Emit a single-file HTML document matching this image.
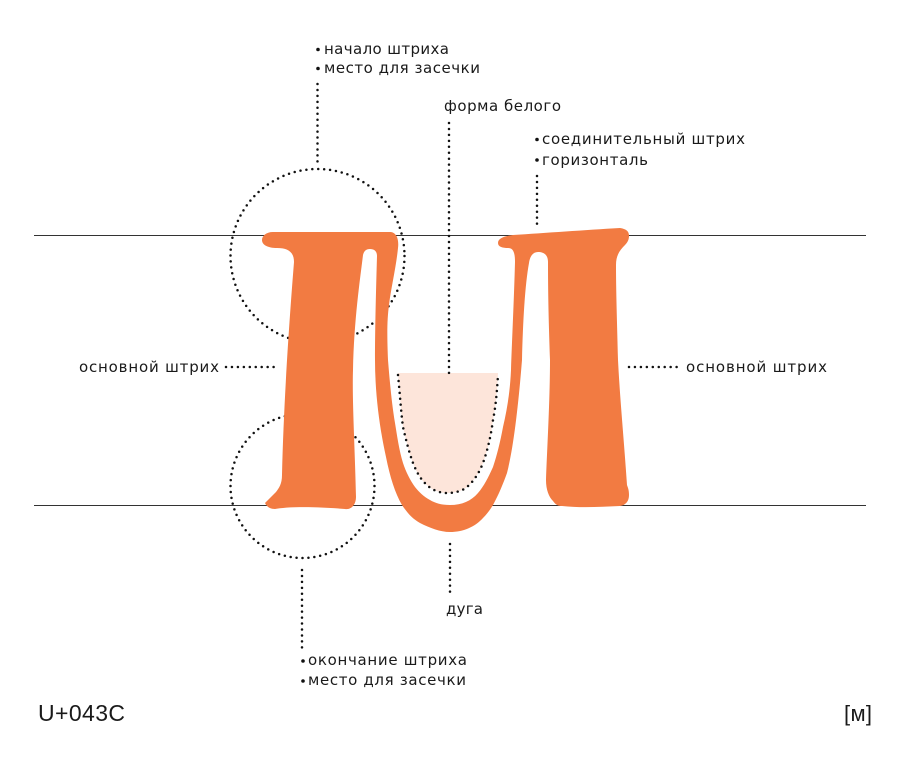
<!DOCTYPE html>
<html lang="ru">
<head>
<meta charset="utf-8">
<title>U+043C</title>
<style>
html,body{margin:0;padding:0;background:#fff;width:900px;height:760px;overflow:hidden}
svg{display:block}
text{font-family:"DejaVu Sans","Liberation Sans",sans-serif;font-size:15px;fill:#1a1a1a}
.d{fill:none;stroke:#111;stroke-width:2.5;stroke-linecap:round;stroke-dasharray:0 5.95}
</style>
</head>
<body>
<svg width="900" height="760" viewBox="0 0 900 760" xmlns="http://www.w3.org/2000/svg">
<rect width="900" height="760" fill="#fff"/>
<path d="M34 235.5H866M34 505.5H866" stroke="#333" stroke-width="1" fill="none"/>
<circle class="d" cx="317.5" cy="256" r="87"/>
<circle class="d" cx="302.5" cy="486" r="72"/>
<path fill="#FDE5DA" d="M398 373 L498 373 C497 390 496 405 493 420 C491 435 488 449 483 463 C479 473 474 481 467 487 C462 491 455 493 447 493 C440 493 432 490 427 485 C421 480 417 473 413 463 C409 452 406 440 403 427 C401 412 400 395 398 373Z"/>
<path fill="#F27B42" d="M273 232 C266 232 262 236 262 240 C262 245 268 248 277 248 C288 248 294 252 294 262 C291 300 284 390 282 475 C282 484 279 488 276 492 L265 503 C267 507 270 509 275 509 C285 507 310 506 345 509 C351 510 356 505 356 497 C355 450 352 400 353 370 C354 320 360 280 363 255 C364 251 366 249 370 249 C374 249 377 251 377 256 C376 290 375 330 375 360 C375 395 380 430 386 457 C390 477 395 493 402 505 C408 514 413 519 420 523 C430 528 440 532 450 532 C463 532 475 527 483 518 C487 514 490 510 493 505 C499 494 503 484 507 473 C513 450 518 410 522 360 C523 320 525 285 529 263 C530 256 533 252 538 252 C544 252 548 255 548 262 C548 300 549 330 550 360 C550 400 547 450 546 480 C546 490 549 497 553 501 C556 505 558 506 562 506 C580 508 600 507 620 506 C626 505 629 501 629 495 C629 490 628 488 627 485 C624 440 620 400 618 360 C617 320 616 290 616 265 C616 255 620 250 625 245 C628 242 629 239 629 236 C629 231 626 229 620 228 C585 230 545 233 513 235 C505 236 498 238 498 243 C498 247 503 248 508 248 C513 248 515 252 515 262 C514 300 512 340 511 370 C510 392 507 410 503 427 C500 443 497 455 493 467 C488 478 484 486 478 493 C471 501 462 505 450 505 C441 505 435 503 430 500 C424 497 419 492 415 487 C410 480 406 472 403 463 C399 450 397 435 395 423 C392 405 390 385 388 360 C387 335 387 320 389 305 C391 288 396 268 398 248 C399 240 397 233 391 232 Z"/>
<path class="d" d="M398 375 C400 395 401 412 403 427 C406 440 409 452 413 463 C417 473 421 480 427 485 C432 490 440 493 447 493 C455 493 462 491 467 487 C474 481 479 473 483 463 C488 449 491 435 493 420 C496 405 497 390 498 375"/>
<path class="d" d="M317.5 84V162M449 123V378M537 176V226M226 367H275M629 367H678M450 544V594M302 570V648"/>
<g fill="#111">
<circle cx="318" cy="49.5" r="1.8"/><circle cx="318" cy="68.5" r="1.8"/>
<circle cx="537" cy="139.5" r="1.8"/><circle cx="537" cy="160" r="1.8"/>
<circle cx="303" cy="661" r="1.8"/><circle cx="303" cy="681" r="1.8"/>
</g>
<text x="324" y="54" textLength="125" lengthAdjust="spacing">начало штриха</text>
<text x="324" y="73" textLength="156" lengthAdjust="spacing">место для засечки</text>
<text x="444" y="111" textLength="117" lengthAdjust="spacing">форма белого</text>
<text x="542" y="144" textLength="203" lengthAdjust="spacing">соединительный штрих</text>
<text x="542" y="165" textLength="106" lengthAdjust="spacing">горизонталь</text>
<text x="79" y="372" textLength="140" lengthAdjust="spacing">основной штрих</text>
<text x="686" y="372" textLength="141" lengthAdjust="spacing">основной штрих</text>
<text x="446" y="614" textLength="37" lengthAdjust="spacing">дуга</text>
<text x="308" y="665" textLength="159" lengthAdjust="spacing">окончание штриха</text>
<text x="308" y="685" textLength="158" lengthAdjust="spacing">место для засечки</text>
<text x="38" y="721" textLength="87" lengthAdjust="spacing" style="font-family:'Liberation Sans',sans-serif;font-size:23px">U+043C</text>
<text x="844" y="721" textLength="28" lengthAdjust="spacing" style="font-family:'Liberation Sans',sans-serif;font-size:22px">[м]</text>
</svg>
</body>
</html>
